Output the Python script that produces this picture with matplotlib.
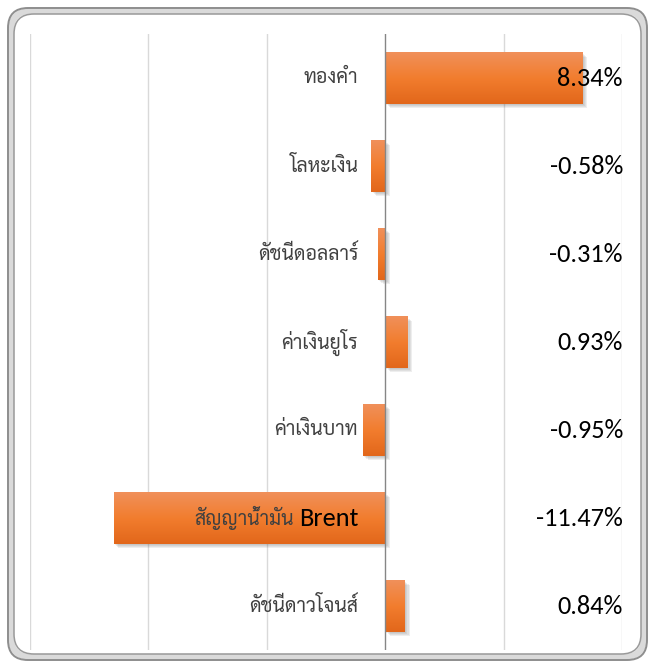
#!/usr/bin/env python3
"""Horizontal bar chart of asset returns (Thai labels)."""
import numpy as np
import matplotlib
matplotlib.use("Agg")
import matplotlib.pyplot as plt
import matplotlib.transforms as mtransforms
from matplotlib.patches import FancyBboxPatch

categories = ["ทองคำ", "โลหะเงิน", "ดัชนีดอลลาร์", "ค่าเงินยูโร",
              "ค่าเงินบาท", "สัญญาน้ำมัน", "ดัชนีดาวโจนส์"]
latin_suffix = ["", "", "", "", "", "Brent", ""]
values = [8.34, -0.58, -0.31, 0.93, -0.95, -11.47, 0.84]
value_labels = ["8.34%", "-0.58%", "-0.31%", "0.93%", "-0.95%", "-11.47%", "0.84%"]

plt.rcParams["font.family"] = ["Carlito", "Sarabun", "DejaVu Sans"]
THAI = ["Sarabun", "DejaVu Sans"]

fig = plt.figure(figsize=(6.49, 6.62), dpi=100)
ax = fig.add_axes([30 / 649, 1 - 650 / 662, 592 / 649, 616 / 662])

y = np.arange(len(categories))
bar_h = 0.58

# soft shadow below / right of each bar
for k in range(1, 5):
    off = mtransforms.offset_copy(ax.transData, fig=fig, x=k * 1.2, y=-k * 1.2, units="dots")
    ax.barh(y, values, height=bar_h, color="#606060", alpha=0.10,
            transform=off, zorder=2, linewidth=0)

bars = ax.barh(y, values, height=bar_h, color="#EE7A30", zorder=3, linewidth=0)

# vertical orange gradient inside each bar (light at top)
grad = np.linspace(0, 1, 64).reshape(-1, 1)
cmap = matplotlib.colors.LinearSegmentedColormap.from_list(
    "org", ["#F0905A", "#F27D2E", "#E2671B"])
for b in bars:
    x0, x1 = b.get_x(), b.get_x() + b.get_width()
    y0, y1 = b.get_y(), b.get_y() + b.get_height()
    im = ax.imshow(grad, extent=(x0, x1, y1, y0), origin="upper", cmap=cmap,
                   aspect="auto", zorder=4)
    im.set_clip_path(b)

ax.set_xlim(-15, 10)
ax.set_ylim(len(categories) - 0.5, -0.5)
ax.set_xticks([-15, -10, -5, 5, 10])
ax.xaxis.grid(True, color="#D9D9D9", linewidth=1.0, zorder=0)
ax.axvline(0, color="#868686", linewidth=1.0, zorder=5)
ax.tick_params(left=False, bottom=False, labelleft=False, labelbottom=False)
for s in ax.spines.values():
    s.set_visible(False)
ax.set_axisbelow(True)

# category labels, right-aligned just left of the zero axis
fig.canvas.draw()
renderer = fig.canvas.get_renderer()
for i, (c, suf) in enumerate(zip(categories, latin_suffix)):
    shift = -27
    if suf:
        t = ax.annotate(suf, xy=(0, i), xytext=(shift, -1), textcoords="offset pixels",
                        ha="right", va="center", fontsize=19, color="#000000", zorder=6)
        shift -= t.get_window_extent(renderer).width + 5
    ax.annotate(c, xy=(0, i), xytext=(shift, 0), textcoords="offset pixels",
                ha="right", va="center", fontsize=14, color="#404040",
                family=THAI, zorder=6)

# value labels at right edge
for i, lab in enumerate(value_labels):
    ax.annotate(lab, xy=(1, i), xycoords=("axes fraction", "data"),
                xytext=(1, 0), textcoords="offset pixels",
                ha="right", va="center", fontsize=19, color="#000000", zorder=6)

# rounded double-line frame
frame_kw = dict(boxstyle="round,pad=0,rounding_size=0.2", facecolor="none",
                transform=fig.dpi_scale_trans, zorder=10)
fig.patches.append(FancyBboxPatch((0.11, 0.05), 6.33, 6.46, edgecolor="#DADADA",
                                  linewidth=4.5, **frame_kw))
fig.patches.append(FancyBboxPatch((0.08, 0.02), 6.39, 6.52, edgecolor="#8E8E8E",
                                  linewidth=1.4, **frame_kw))
fig.patches.append(FancyBboxPatch((0.14, 0.08), 6.27, 6.40, edgecolor="#9A9A9A",
                                  linewidth=1.1, **frame_kw))

fig.savefig("out.png", dpi=100, facecolor="white")
